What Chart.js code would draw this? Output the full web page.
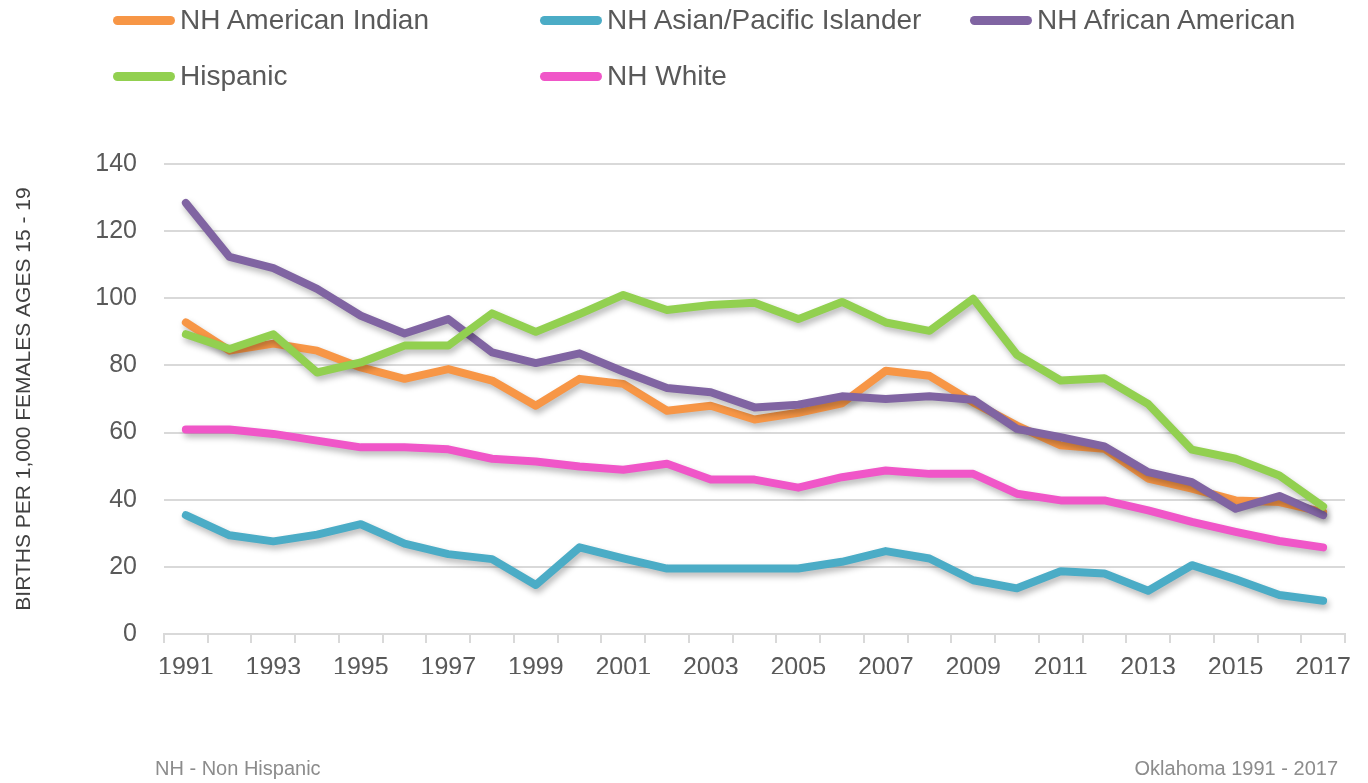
<!DOCTYPE html>
<html>
<head>
<meta charset="utf-8">
<script src="https://cdn.jsdelivr.net/npm/chart.js@4/dist/chart.umd.min.js"></script>
<style>
  html, body { margin: 0; padding: 0; background: #fff; }
  #wrap { position: relative; width: 1368px; height: 783px; overflow: hidden; }
  #c { position: absolute; left: 0; top: 0; }
  .leg { position: absolute; display: flex; align-items: center; font-family: "Liberation Sans", Arial, sans-serif; font-size: 28px; color: #595959; white-space: nowrap; }
  .leg .sw { width: 62px; height: 9px; border-radius: 5px; margin-right: 5px; }
  .foot { position: absolute; font-family: "Liberation Sans", Arial, sans-serif; font-size: 20px; color: #8c8c8c; white-space: nowrap; }
</style>
</head>
<body>
<div id="wrap">
  <canvas id="c" width="1368" height="783"></canvas>
  <div id="legend"></div>
  <div class="foot" style="left:155px; top:757px;">NH - Non Hispanic</div>
  <div class="foot" style="right:30px; top:757px;">Oklahoma 1991 - 2017</div>
</div>
<script>
const years = ["1991","1992","1993","1994","1995","1996","1997","1998","1999","2000","2001","2002","2003","2004","2005","2006","2007","2008","2009","2010","2011","2012","2013","2014","2015","2016","2017"];

const americanIndian = [92.8, 84.4, 86.5, 84.4, 79.4, 76.0, 78.9, 75.5, 68.0, 76.0, 74.5, 66.5, 68.0, 63.9, 65.9, 68.7, 78.4, 76.9, 69.0, 62.1, 56.2, 55.2, 46.3, 43.3, 39.8, 39.3, 36.3];
const asianPacificIslander = [35.4, 29.4, 27.6, 29.6, 32.7, 26.9, 23.8, 22.3, 14.6, 25.8, 22.5, 19.5, 19.5, 19.5, 19.5, 21.5, 24.7, 22.5, 16.0, 13.6, 18.7, 18.0, 12.9, 20.5, 16.3, 11.6, 9.9];
const africanAmerican = [128.4, 112.3, 109.0, 102.8, 94.8, 89.5, 93.8, 83.9, 80.7, 83.6, 78.2, 73.3, 72.0, 67.5, 68.3, 70.8, 70.0, 70.8, 69.8, 61.1, 58.6, 55.9, 48.2, 45.2, 37.3, 41.1, 35.4];
const hispanic = [89.3, 84.9, 89.3, 77.9, 80.9, 85.9, 85.9, 95.5, 90.0, 95.3, 101.0, 96.5, 98.0, 98.7, 93.8, 98.9, 92.8, 90.3, 99.9, 83.2, 75.5, 76.2, 68.5, 54.9, 52.2, 47.2, 38.0];
const white = [60.9, 60.9, 59.6, 57.6, 55.6, 55.6, 55.0, 52.2, 51.4, 49.9, 48.9, 50.7, 46.0, 46.0, 43.6, 46.7, 48.7, 47.7, 47.7, 41.8, 39.8, 39.8, 36.8, 33.4, 30.4, 27.7, 25.8];

const seriesNames = ["NH American Indian", "NH Asian/Pacific Islander", "NH African American", "Hispanic", "NH White"];
const seriesData = [americanIndian, asianPacificIslander, africanAmerican, hispanic, white];
const seriesColors = ["#F79646", "#4BACC6", "#8064A2", "#92D050", "#F056C8"];

const yTicks = [0, 20, 40, 60, 80, 100, 120, 140];
const yAxisTitle = "BIRTHS PER 1,000 FEMALES AGES 15 - 19";

// legend (HTML)
const legendPos = [[113, 20], [540, 20], [970, 20], [113, 76], [540, 76]];
const legendEl = document.getElementById('legend');
seriesNames.forEach((n, i) => {
  const d = document.createElement('div');
  d.className = 'leg';
  d.style.left = legendPos[i][0] + 'px';
  d.style.top = (legendPos[i][1] - 17) + 'px';
  d.style.height = '34px';
  d.innerHTML = '<span class="sw" style="background:' + seriesColors[i] + '"></span><span>' + n + '</span>';
  legendEl.appendChild(d);
});

const shadowPlugin = {
  id: 'lineShadow',
  beforeDatasetDraw(chart) {
    const ctx = chart.ctx;
    ctx.save();
    ctx.shadowColor = 'rgba(0,0,0,0.28)';
    ctx.shadowBlur = 6;
    ctx.shadowOffsetX = 2;
    ctx.shadowOffsetY = 4;
  },
  afterDatasetDraw(chart) {
    chart.ctx.restore();
  }
};

new Chart(document.getElementById('c'), {
  type: 'line',
  data: {
    labels: years,
    datasets: seriesNames.map((n, i) => ({
      label: n,
      data: seriesData[i],
      borderColor: seriesColors[i],
      backgroundColor: seriesColors[i],
      borderWidth: 8,
      pointRadius: 0,
      pointHoverRadius: 0,
      tension: 0,
      fill: false,
      borderCapStyle: 'round',
      borderJoinStyle: 'round',
      order: seriesNames.length - i
    }))
  },
  options: {
    responsive: false,
    animation: false,
    events: [],
    layout: { padding: { top: 164, right: 23, bottom: 109, left: 0 } },
    plugins: { legend: { display: false }, tooltip: { enabled: false } },
    scales: {
      x: {
        type: 'category',
        offset: true,
        grid: { offset: true, drawOnChartArea: false, drawTicks: true, tickLength: 9, color: '#d9d9d9', lineWidth: 2 },
        border: { display: true, color: '#d9d9d9', width: 2 },
        ticks: {
          autoSkip: false, maxRotation: 0, minRotation: 0,
          padding: 10,
          color: '#595959',
          font: { family: '"Liberation Sans", Arial, sans-serif', size: 25 },
          callback: (v, i) => (i % 2 === 0 ? years[i] : '')
        },
        afterFit: (s) => { s.height = 40; }
      },
      y: {
        min: yTicks[0],
        max: yTicks[yTicks.length - 1],
        afterBuildTicks: (s) => { s.ticks = yTicks.map(v => ({ value: v })); },
        grid: { color: '#d9d9d9', lineWidth: 2, drawTicks: false },
        border: { display: false },
        ticks: {
          padding: 27,
          color: '#595959',
          font: { family: '"Liberation Sans", Arial, sans-serif', size: 25 }
        },
        title: {
          display: true,
          text: yAxisTitle,
          color: '#404040',
          font: { family: '"Liberation Sans", Arial, sans-serif', size: 21 },
          padding: { top: 12, bottom: 0 }
        },
        afterFit: (s) => { s.width = 164; }
      }
    }
  },
  plugins: [shadowPlugin]
});
</script>
</body>
</html>
